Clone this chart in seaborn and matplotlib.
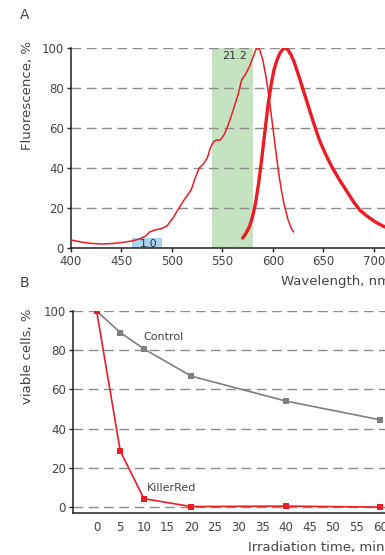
import matplotlib
matplotlib.use('Agg')

import pandas as pd
import matplotlib.pyplot as plt
import seaborn as sns

# --- Panel A: KillerRed excitation / emission spectra ---
ex_nm = [400, 410, 420, 430, 440, 450, 460, 468, 474, 478, 483, 490, 495, 501, 507,
         512, 519, 523, 527, 531, 535, 538, 541, 544, 548, 552, 556, 560, 565, 569,
         573, 577, 580, 583, 585, 587, 590, 593, 596, 599, 602, 605, 608, 611, 615,
         618, 620.5]
ex_val = [4, 3, 2.3, 2, 2.2, 2.7, 3.5, 4.5, 6, 8, 9, 9.8, 11, 15, 20,
          24, 29, 35, 40, 42, 45, 50, 53, 54, 54, 57, 62, 68, 76, 84,
          87, 91, 95, 99, 100, 99, 94, 86, 76, 64, 52, 40, 30, 22, 14,
          10, 8]
em_nm = [570, 573, 577, 580, 583, 586, 589, 592, 595, 598, 601, 604, 607, 610, 612,
         615, 618, 621, 625, 630, 635, 640, 646, 652, 659, 666, 673, 680, 686, 693,
         700, 705, 711]
em_val = [5, 7, 11, 16, 23, 33, 45, 58, 71, 81, 89, 94, 97.5, 99.5, 100,
          99, 96.5, 93, 87, 79, 71, 63, 54, 47, 40, 34, 28.5, 23, 19, 16,
          13.5, 12, 10.5]

band_left = [460, 540]
band_right = [490, 580]
band_top = [5, 100]
band_text = ['1.0', '21.2']
band_text_y = [2, 96]
band_colors = ['#a9d3ee', '#c6e3c1']

# --- Panel B: viability under irradiation ---
time_min = [0, 5, 10, 20, 40, 60]
control = [100, 89, 80.7, 66.8, 54.1, 44.5]
killerred = [100, 28.6, 4.3, 0.3, 0.5, 0]

RED = '#ec1c24'
GRAY = '#7f7f7f'
TXT = '#444444'

sns.set_style('ticks')
plt.rcParams['font.family'] = ['DejaVu Sans']

fig = plt.figure(figsize=(3.85, 5.55), dpi=100)
axA = fig.add_axes([71 / 385, 1 - 248 / 555, 1 - 71 / 385, 200 / 555])
axB = fig.add_axes([73 / 385, 1 - 513 / 555, 1 - 73 / 385, 202 / 555])

grid_kw = dict(color='#8c8c8c', linestyle=(0, (7, 4)), linewidth=1.0)

# panel A
for l, r, t, c in zip(band_left, band_right, band_top, band_colors):
    axA.bar((l + r) / 2, t, width=r - l, color=c, linewidth=0, zorder=1)
for l, r, s, y in zip(band_left, band_right, band_text, band_text_y):
    axA.text((l + r) / 2 + 2, y, s, ha='center', va='center', fontsize=8,
             color='#333333', zorder=3)

ex_df = pd.DataFrame({'nm': ex_nm, 'val': ex_val})
em_df = pd.DataFrame({'nm': em_nm, 'val': em_val})
sns.lineplot(data=ex_df, x='nm', y='val', ax=axA, color=RED, linewidth=1.1,
             sort=False, zorder=4)
sns.lineplot(data=em_df, x='nm', y='val', ax=axA, color=RED, linewidth=2.4,
             sort=False, zorder=4)

axA.set_xlim(400, 711)
axA.set_ylim(0, 100)
axA.set_xticks(range(400, 701, 50))
axA.set_yticks(range(0, 101, 20))
axA.set_axisbelow('line')
axA.yaxis.grid(True, **grid_kw)

# panel B
df_b = pd.DataFrame({
    'time': time_min * 2,
    'viable': control + killerred,
    'group': ['Control'] * len(time_min) + ['KillerRed'] * len(time_min),
})
sns.lineplot(data=df_b, x='time', y='viable', hue='group', ax=axB,
             palette={'Control': GRAY, 'KillerRed': RED}, marker='s',
             markersize=4, markeredgewidth=0, linewidth=1.2, legend=False,
             zorder=4)
axB.text(9.8, 86.5, 'Control', fontsize=8, color=TXT, va='center')
axB.text(10.6, 10, 'KillerRed', fontsize=8, color=TXT, va='center')

axB.set_xlim(-5, 61)
axB.set_ylim(-3, 100)
axB.set_xticks(range(0, 61, 5))
axB.set_yticks(range(0, 101, 20))
axB.set_axisbelow('line')
axB.yaxis.grid(True, **grid_kw)
axB.tick_params(axis='x', length=0, pad=6)

for ax in (axA, axB):
    ax.set_xlabel('')
    ax.set_ylabel('')
    for side in ('top', 'right'):
        ax.spines[side].set_visible(False)
    for side in ('left', 'bottom'):
        ax.spines[side].set_color('#222222')
        ax.spines[side].set_linewidth(1.1)
    ax.tick_params(labelsize=8.5, labelcolor=TXT, color='#222222', width=1.0)
    ax.tick_params(axis='y', length=3, pad=2)
axA.tick_params(axis='x', length=3, pad=2)

fig.text(20 / 385, 1 - 15 / 555, 'A', fontsize=10, color=TXT, va='center')
fig.text(20 / 385, 1 - 283 / 555, 'B', fontsize=10, color=TXT, va='center')
fig.text(28 / 385, 1 - 95 / 555, 'Fluorescence, %', fontsize=9.5, color=TXT,
         rotation=90, ha='center', va='center')
fig.text(28 / 385, 1 - 356 / 555, 'viable cells, %', fontsize=9.5, color=TXT,
         rotation=90, ha='center', va='center')
fig.text(281 / 385, 1 - 282 / 555, 'Wavelength, nm', fontsize=9.5, color=TXT,
         ha='left', va='center')
fig.text(248 / 385, 1 - 548 / 555, 'Irradiation time, min', fontsize=9.5,
         color=TXT, ha='left', va='center')

fig.savefig('out.png', dpi=100)
plt.close(fig)
